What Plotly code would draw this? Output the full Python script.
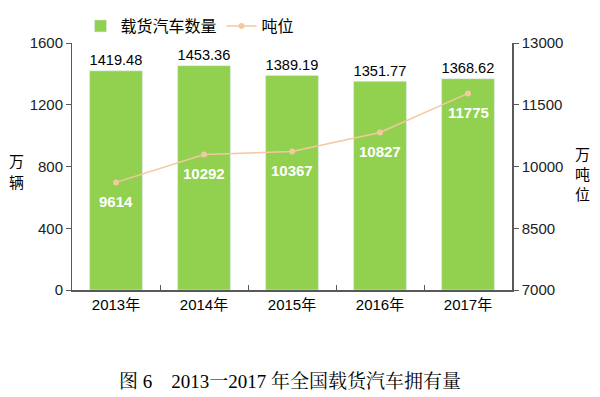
import plotly.graph_objects as go

years = ["2013年", "2014年", "2015年", "2016年", "2017年"]
vehicles = [1419.48, 1453.36, 1389.19, 1351.77, 1368.62]
tonnage = [9614, 10292, 10367, 10827, 11775]
left_ticks = [0, 400, 800, 1200, 1600]
right_ticks = [7000, 8500, 10000, 11500, 13000]

green = "#92D050"
tan = "#F3C9A0"
axis_col = "#595959"
font_sans = "Liberation Sans, Arial, Noto Sans CJK SC, sans-serif"
font_cjk = "Noto Sans CJK SC, sans-serif"

fig = go.Figure()
fig.add_trace(go.Bar(
    x=years, y=vehicles, name="载货汽车数量", marker_color=green,
    text=[f"{v:.2f}" for v in vehicles], textposition="outside",
    textfont=dict(size=16, color="#000000", family=font_sans),
    cliponaxis=False, width=0.6,
))
fig.add_trace(go.Scatter(
    x=years, y=tonnage, name="吨位", yaxis="y2", mode="lines+markers",
    line=dict(color=tan, width=1.5), marker=dict(color=tan, size=6, symbol="circle"),
))
for yr, v in zip(years, tonnage):
    fig.add_annotation(x=yr, y=v, xref="x", yref="y2", text=f"<b>{v}</b>", showarrow=False,
                       yshift=-19, font=dict(size=15, color="#FFFFFF",
                                             family="Liberation Sans, Arial, sans-serif"))

fig.update_layout(
    width=600, height=397,
    margin=dict(l=72, r=88, t=43, b=107, autoexpand=False),
    paper_bgcolor="white", plot_bgcolor="white",
    font=dict(family=font_sans, size=14, color="#000000"),
    showlegend=True,
    legend=dict(orientation="h", x=(190-72)/440, xanchor="center", y=1.0, yanchor="bottom",
                font=dict(size=16, family=font_cjk), bgcolor="rgba(0,0,0,0)"),
    xaxis=dict(showline=True, linecolor=axis_col, linewidth=2, ticks="inside", tickson="boundaries",
               ticklen=5, tickcolor=axis_col, tickfont=dict(size=15, color="#000000"), showgrid=False,
               automargin=False),
    yaxis=dict(range=[0, 1600], tickvals=left_ticks, ticktext=[str(t) for t in left_ticks],
               showline=True, linecolor=axis_col, linewidth=1,
               ticks="outside", ticklen=5, tickcolor=axis_col, showgrid=False, zeroline=False,
               tickfont=dict(size=15, color="#222222"), automargin=False),
    yaxis2=dict(range=[7000, 13000], tickvals=right_ticks, ticktext=[str(t) for t in right_ticks],
                overlaying="y", side="right",
                showline=True, linecolor=axis_col, linewidth=1.5, ticks="outside", ticklen=5,
                tickcolor=axis_col, showgrid=False, zeroline=False,
                tickfont=dict(size=15, color="#222222"), automargin=False),
)

def vlabel(chars, xpix, ypix_list):
    for ch, yp in zip(chars, ypix_list):
        fig.add_annotation(text=ch, xref="x domain", yref="y domain", x=(xpix-72)/440,
                           y=(290-yp)/247, xanchor="center", yanchor="middle", showarrow=False,
                           font=dict(size=15, family=font_cjk))

vlabel("万辆", 16, [160, 181])
vlabel("万吨位", 582, [153, 173, 193])

fig.add_annotation(text="图 6　2013一2017 年全国载货汽车拥有量", xref="x domain", yref="y domain",
                   x=(290-72)/440, y=-(381-290)/247, xanchor="center", yanchor="middle",
                   showarrow=False,
                   font=dict(size=19, family="Liberation Serif, Noto Serif CJK SC, Noto Sans CJK SC, serif",
                             color="#000000"))

fig.write_html("out.html", config={"displayModeBar": False},
               post_script="document.body.style.margin='0';document.body.style.overflow='hidden';")
